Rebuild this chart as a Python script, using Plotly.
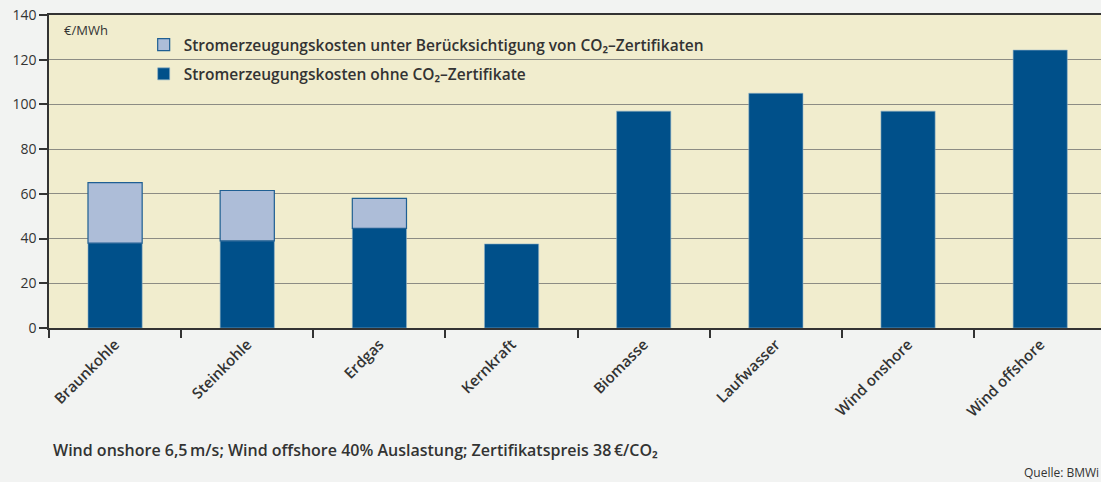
import plotly.graph_objects as go

categories = ["Braunkohle", "Steinkohle", "Erdgas", "Kernkraft", "Biomasse",
              "Laufwasser", "Wind onshore", "Wind offshore"]
ohne_co2 = [38, 39, 44.6, 37.6, 97, 105, 97, 124.3]
mit_co2 = [65, 61.5, 58, None, None, None, None, None]
co2_aufschlag = [(m - o) if m is not None else None for m, o in zip(mit_co2, ohne_co2)]
y_ticks = [0, 20, 40, 60, 80, 100, 120, 140]

DARK = "#00508a"
LIGHT = "#adbdd8"
FONT = "Open Sans"

fig = go.Figure()
fig.add_trace(go.Bar(
    x=categories, y=ohne_co2, name="Stromerzeugungskosten ohne CO₂–Zertifikate",
    marker=dict(color=DARK, line=dict(color="#8fb0c8", width=0.6)), width=0.41,
    legendgroup="b", legendrank=2,
))
fig.add_trace(go.Bar(
    x=categories, y=co2_aufschlag, base=ohne_co2,
    name="Stromerzeugungskosten unter Berücksichtigung von CO₂–Zertifikaten",
    marker=dict(color=LIGHT, line=dict(color="#1f5f93", width=1.2)), width=0.41,
    legendgroup="a", legendrank=1,
))

fig.update_layout(
    width=1101, height=482,
    margin=dict(l=49, r=0, t=15, b=154),
    paper_bgcolor="#f2f3f2", plot_bgcolor="#f1edce",
    barmode="overlay",
    font=dict(family=FONT, color="#333333", size=14),
    showlegend=True,
    legend=dict(
        x=0.09, y=0.958, xanchor="left", yanchor="top",
        bgcolor="rgba(0,0,0,0)", font=dict(size=15.5, color="#333333", family=FONT, weight=600),
        tracegroupgap=6, itemwidth=30,
    ),
)
fig.update_xaxes(
    type="category", range=[-0.5, 7.46], tickson="boundaries",
    ticks="outside", ticklen=8, tickcolor="#333333", tickwidth=1.5,
    showline=True, linecolor="#333333", linewidth=1.5, mirror=True,
    tickangle=-45, showgrid=False, tickfont=dict(size=15, weight=600),
)
fig.update_yaxes(
    range=[0, 140], tickvals=y_ticks, ticks="outside", ticklen=8,
    tickcolor="#333333", tickwidth=1.5, showline=True, linecolor="#333333",
    linewidth=1.5, gridcolor="#8c8c84", gridwidth=1.2, zeroline=False,
    tickfont=dict(size=14),
)

fig.add_annotation(text="€/MWh", xref="paper", yref="paper", x=0.012, y=0.952,
                   xanchor="left", yanchor="middle", showarrow=False,
                   font=dict(size=13, color="#333333"))
fig.add_annotation(text="Wind onshore 6,5\u2009m/s; Wind offshore 40% Auslastung; Zertifikatspreis 38\u2009€/CO₂",
                   xref="paper", yref="paper", x=0.0, y=-0.39, xanchor="left", yanchor="middle",
                   xshift=2, showarrow=False, font=dict(size=16, color="#333333", weight=600))
fig.add_annotation(text="Quelle: BMWi", xref="paper", yref="paper", x=1.0, y=-0.462,
                   xanchor="right", yanchor="middle", showarrow=False,
                   font=dict(size=12, color="#333333"))

fig.write_html("out.html", post_script="document.body.style.margin='0';",
               config={"displayModeBar": False})
